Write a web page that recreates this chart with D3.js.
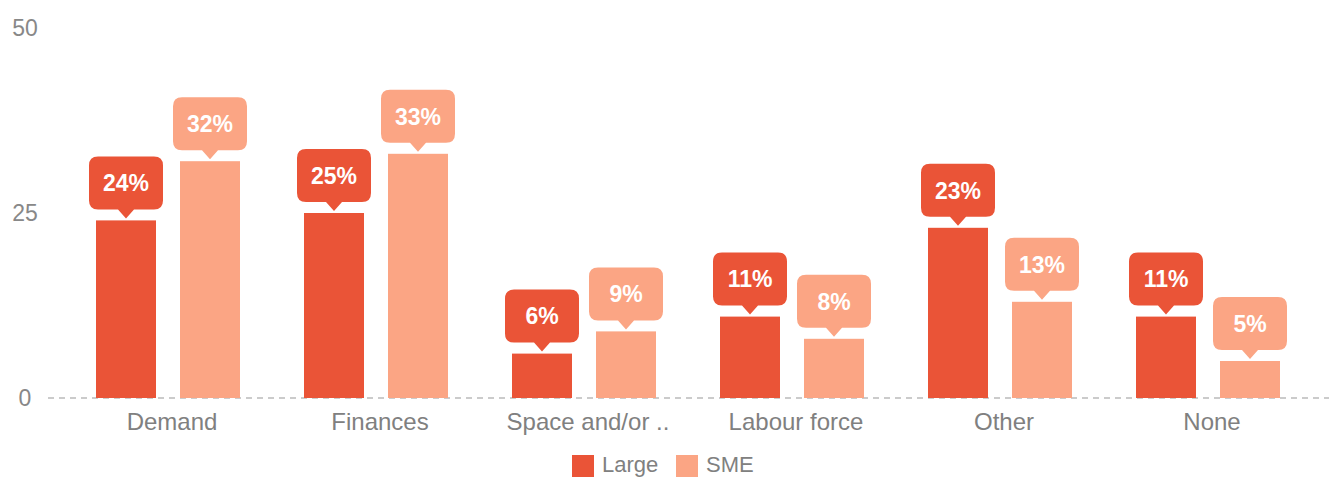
<!DOCTYPE html>
<html>
<head>
<meta charset="utf-8">
<script src="https://cdn.jsdelivr.net/npm/d3@7"></script>
<style>
  body { margin: 0; background: #fff; overflow: hidden; }
  text { font-family: "Liberation Sans", Arial, sans-serif; }
</style>
</head>
<body>
<div id="chart"></div>
<script>
const categories = ['Demand', 'Finances', 'Space and/or ..', 'Labour force', 'Other', 'None'];
const series = ['Large', 'SME'];
const largeValues = [24, 25, 6, 11, 23, 11];
const smeValues = [32, 33, 9, 8, 13, 5];
const yTicks = [0, 25, 50];

const colors = { Large: '#ea5437', SME: '#fba584' };

const width = 1329, height = 477;

const svg = d3.select('#chart').append('svg')
    .attr('width', width)
    .attr('height', height);

// scales
const x0 = d3.scaleBand().domain(categories).range([64.5, 1312.5]);
const x1 = d3.scaleBand().domain(series).range([31.5, 175.5]).paddingInner(24 / 84);
const y = d3.scaleLinear().domain([0, 50]).range([398, 28]);

// y labels
svg.append('g').selectAll('text')
    .data(yTicks)
    .enter().append('text')
    .attr('x', 25)
    .attr('y', d => y(d))
    .attr('dy', '0.36em')
    .attr('text-anchor', 'middle')
    .attr('fill', '#888')
    .style('font-size', '23px')
    .text(d => d);

// baseline
svg.append('line')
    .attr('x1', 48).attr('x2', width)
    .attr('y1', y(0)).attr('y2', y(0))
    .attr('stroke', '#bbb')
    .attr('stroke-width', 1.5)
    .attr('stroke-dasharray', '6,5');

const rows = [];
categories.forEach((c, i) => {
    rows.push({ cat: c, s: 'Large', v: largeValues[i] });
    rows.push({ cat: c, s: 'SME', v: smeValues[i] });
});

// bars
svg.append('g').selectAll('rect')
    .data(rows)
    .enter().append('rect')
    .attr('x', d => x0(d.cat) + x1(d.s))
    .attr('y', d => y(d.v))
    .attr('width', x1.bandwidth())
    .attr('height', d => y(0) - y(d.v))
    .attr('fill', d => colors[d.s]);

// bubble labels
const bw = 74, bh = 53, tip = 9, r = 9;
function bubblePath(cx, top) {
    const l = cx - bw / 2, rt = cx + bw / 2, b = top + bh;
    return `M${l + r},${top} H${rt - r} Q${rt},${top} ${rt},${top + r} V${b - r} Q${rt},${b} ${rt - r},${b}` +
        ` H${cx + 8} L${cx},${b + tip} L${cx - 8},${b} H${l + r} Q${l},${b} ${l},${b - r} V${top + r} Q${l},${top} ${l + r},${top} Z`;
}
const bubbles = svg.append('g').selectAll('g')
    .data(rows)
    .enter().append('g')
    .attr('transform', d => {
        const cx = x0(d.cat) + x1(d.s) + x1.bandwidth() / 2;
        const top = y(d.v) - 2 - tip - bh;
        return `translate(${cx},${top})`;
    });
bubbles.append('path')
    .attr('d', bubblePath(0, 0))
    .attr('fill', d => colors[d.s]);
bubbles.append('text')
    .attr('x', 0)
    .attr('y', bh / 2)
    .attr('dy', '0.36em')
    .attr('text-anchor', 'middle')
    .attr('fill', '#fff')
    .style('font-size', '23px')
    .style('font-weight', 'bold')
    .text(d => d.v + '%');

// x labels
svg.append('g').selectAll('text')
    .data(categories)
    .enter().append('text')
    .attr('x', d => x0(d) + x0.bandwidth() / 2 + 3.5)
    .attr('y', 430)
    .attr('text-anchor', 'middle')
    .attr('fill', '#808080')
    .style('font-size', '24px')
    .text(d => d);

// legend
const legend = svg.append('g');
const legendX = [572, 676];
series.forEach((s, i) => {
    legend.append('rect')
        .attr('x', legendX[i]).attr('y', 455)
        .attr('width', 22).attr('height', 22)
        .attr('fill', colors[s]);
    legend.append('text')
        .attr('x', legendX[i] + 30).attr('y', 472)
        .attr('fill', '#808080')
        .style('font-size', '22px')
        .text(s);
});
</script>
</body>
</html>
